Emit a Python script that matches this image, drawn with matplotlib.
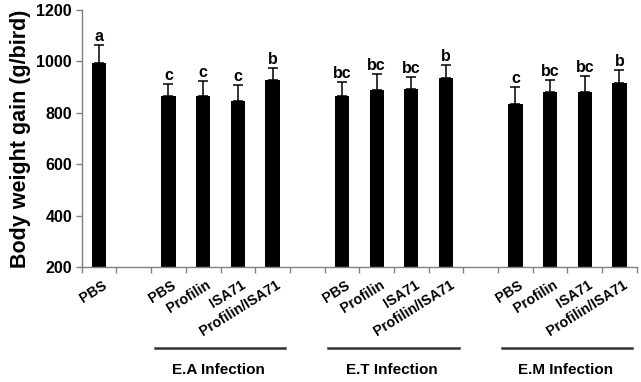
import numpy as np
import matplotlib
matplotlib.use('Agg')
import matplotlib.pyplot as plt
import matplotlib.transforms as mtransforms

plt.rcParams['font.family'] = ['Liberation Sans', 'DejaVu Sans']
plt.rcParams['font.weight'] = 'bold'

# one entry per slot on the x axis, '' = empty gap slot
labels = ['PBS', '',
          'PBS', 'Profilin', 'ISA71', 'Profilin/ISA71', '',
          'PBS', 'Profilin', 'ISA71', 'Profilin/ISA71', '',
          'PBS', 'Profilin', 'ISA71', 'Profilin/ISA71']
means = [993, np.nan,
         866, 866, 845, 929, np.nan,
         864, 889, 894, 934, np.nan,
         835, 882, 882, 915]
sds = [71, np.nan,
       45, 59, 62, 44, np.nan,
       57, 62, 46, 52, np.nan,
       65, 44, 62, 53]
letters = ['a', '',
           'c', 'c', 'c', 'b', '',
           'bc', 'bc', 'bc', 'b', '',
           'c', 'bc', 'bc', 'b']
groups = ['E.A Infection', 'E.T Infection', 'E.M Infection']
group_slots = [(2, 5), (7, 10), (12, 15)]

fig = plt.figure(figsize=(6.41, 3.82), dpi=100)
ax = fig.add_axes([0.1275, 0.301, 0.866, 0.673])

x = np.arange(len(labels))
means = np.array(means, dtype=float)
sds = np.array(sds, dtype=float)
ok = ~np.isnan(means)

ax.bar(x[ok], means[ok] - 200, bottom=200, width=0.41, color='black', zorder=2)
ax.errorbar(x[ok], means[ok], yerr=[np.zeros(ok.sum()), sds[ok]], fmt='none',
            ecolor='black', elinewidth=1.1, capsize=3.5, capthick=1.1, zorder=3)

for xi, m, s, t in zip(x, means, sds, letters):
    if t:
        ax.text(xi, m + s + 4, t, ha='center', va='bottom', fontsize=11.5,
                fontweight='bold')

ax.set_xlim(-0.5, len(labels) - 0.5)
ax.set_ylim(200, 1200)
ax.set_yticks([200, 400, 600, 800, 1000, 1200])
ax.tick_params(axis='y', direction='out', length=4, width=1, color='#808080',
               labelsize=11.5, pad=3)

# tick marks on slot boundaries, labels under bar centres
ax.set_xticks(np.arange(-0.5, len(labels)), labels=[''] * (len(labels) + 1))
ax.tick_params(axis='x', which='major', direction='out', length=4, width=1,
               color='#808080')
ax.set_xticks(x[ok], labels=[labels[i] for i in x[ok]], minor=True)
ax.tick_params(axis='x', which='minor', length=0, pad=8, labelsize=10.2)
offset = mtransforms.ScaledTranslation(3 / 100, 0, fig.dpi_scale_trans)
for lab in ax.get_xticklabels(minor=True):
    lab.set_rotation(32)
    lab.set_ha('right')
    lab.set_va('top')
    lab.set_rotation_mode('anchor')
    lab.set_fontweight('bold')
    lab.set_transform(lab.get_transform() + offset)

for side in ['top', 'right']:
    ax.spines[side].set_visible(False)
for side in ['left', 'bottom']:
    ax.spines[side].set_color('#808080')
    ax.spines[side].set_linewidth(1)

ax.set_ylabel('Body weight gain (g/bird)', fontsize=15.5, fontweight='bold',
              labelpad=4)

# group bars and names below the axis
trans = mtransforms.blended_transform_factory(ax.transData, fig.transFigure)
for name, (a, b) in zip(groups, group_slots):
    ax.plot([a - 0.4, b + 0.37], [1 - 348 / 382] * 2, color='#333333', lw=1.8,
            transform=trans, clip_on=False)
    ax.text((a + b) / 2 - 0.05, 1 - 370 / 382, name, transform=trans,
            ha='center', va='center', fontsize=11, fontweight='bold',
            fontstretch='condensed')

fig.savefig('out.png', dpi=100)
